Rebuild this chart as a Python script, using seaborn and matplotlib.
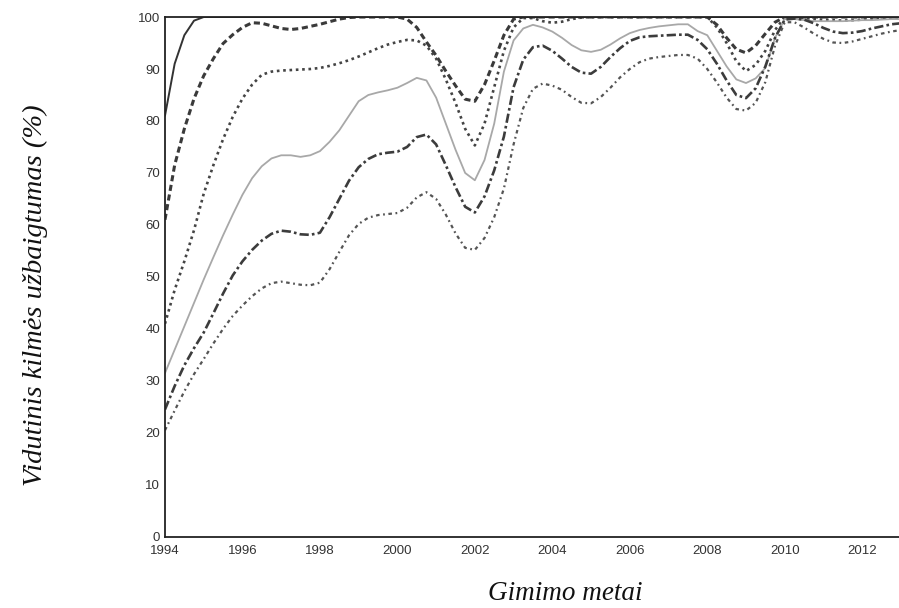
import numpy as np
import pandas as pd
import matplotlib
matplotlib.use("Agg")
import matplotlib.pyplot as plt
import seaborn as sns

# Values, quarter-year steps 1994.00 .. 2013.00
years = np.arange(1994.0, 2013.01, 0.25)

line_1 = [81, 91, 96.5, 99.3] + [100] * 73

line_2 = [61, 71.5, 78.5, 84.3,
          88.7, 92, 94.9, 96.6,
          98, 98.9, 98.8, 98.3,
          97.8, 97.6, 97.8, 98.2,
          98.6, 99.1, 99.6, 99.9,
          100, 100, 100, 100,
          100, 99.6, 98, 95.2,
          92.6, 89.6, 86.8, 84.2,
          83.8, 87, 91.6, 96.5,
          99.6, 100, 100, 100,
          100, 100, 100, 100,
          100, 100, 100, 100,
          100, 100, 100, 100,
          100, 100, 100, 100,
          100, 98.5, 96, 93.8,
          93.1, 94.5, 96.8, 99,
          100, 100, 100, 100,
          100, 100, 100, 100,
          100, 100, 100, 100,
          100]

line_3 = [41, 47.5, 53, 59,
          66, 71.5, 76.5, 80.8,
          84.3, 87, 88.9, 89.5,
          89.7, 89.8, 89.9, 90,
          90.2, 90.6, 91.1, 91.7,
          92.4, 93.2, 94, 94.7,
          95.2, 95.6, 95.5, 94.5,
          92, 88, 83.5, 78.5,
          75.3, 79.5, 86.5, 93.5,
          98, 99.8, 99.8, 99.2,
          98.9, 99.1, 99.6, 99.9,
          100, 100, 100, 100,
          100, 100, 100, 100,
          100, 100, 100, 100,
          100, 98, 95, 91.5,
          89.6, 90.8, 93.5, 97.5,
          100, 100, 99.8, 99.6,
          99.5, 99.4, 99.3, 99.4,
          99.5, 99.6, 99.7, 99.8,
          99.8]

line_4 = [31.5, 36, 40.5, 45,
          49.5, 53.8, 58, 62,
          65.8, 69, 71.3, 72.8,
          73.4, 73.4, 73.1, 73.4,
          74.2, 76, 78.2, 81,
          83.8, 85, 85.5, 85.9,
          86.4, 87.3, 88.3, 87.8,
          84.5, 79.5, 74.5, 70,
          68.6, 72.5, 79.5, 89.5,
          95.5, 97.8, 98.5, 98,
          97.2, 96, 94.6, 93.6,
          93.3, 93.7, 94.7, 95.9,
          96.9, 97.5, 97.9, 98.2,
          98.4, 98.6, 98.6, 97.3,
          96.5, 93.5, 90.5, 88,
          87.3, 88.2, 90.2, 96,
          99.6, 99.6, 99.4, 99.2,
          99.2, 99.2, 99.2, 99.3,
          99.4, 99.4, 99.5, 99.6,
          99.6]

line_5 = [24.5, 29, 33, 36.3,
          39.3, 43, 46.8, 50.3,
          53, 55.2, 57, 58.3,
          58.9, 58.7, 58.2, 58.1,
          58.5, 61.5, 65, 68.5,
          71.1, 72.7, 73.6, 73.9,
          74.1, 75, 76.9, 77.4,
          75.5, 71.5, 67.3, 63.5,
          62.4, 65.5, 70.5, 77,
          86.5, 91.8, 94.2, 94.5,
          93.5, 92, 90.4, 89.3,
          89.1, 90.4, 92.3, 94,
          95.4, 96.1, 96.3, 96.4,
          96.5, 96.6, 96.6, 95.6,
          93.8, 91, 87.8, 85,
          84.4, 86.3, 90.5, 96,
          99.5, 99.7, 99.5, 98.8,
          97.9, 97.2, 96.9, 97,
          97.3, 97.8, 98.2, 98.6,
          98.8]

line_6 = [20.5, 24.3, 28, 31.3,
          34.2, 37.2, 40, 42.5,
          44.5, 46.3, 47.8, 48.8,
          49.1, 48.8, 48.5, 48.4,
          48.9, 51.5, 54.8, 58,
          60.2, 61.4, 61.9, 62.1,
          62.3, 63.3, 65.3, 66.3,
          65, 62, 58.4, 55.6,
          55.2, 57.5, 61.5, 67,
          75.5, 82.5, 86.2, 87.2,
          86.8, 86, 84.6, 83.5,
          83.4, 84.6, 86.4, 88.4,
          90, 91.3, 92, 92.3,
          92.5, 92.7, 92.7, 92,
          90, 87.4, 84.5, 82.3,
          82, 83.5, 87.5, 94.5,
          99, 99, 98, 96.8,
          95.8, 95.1, 95, 95.3,
          95.8, 96.3, 96.8, 97.2,
          97.5]

series = [line_1, line_2, line_3, line_4, line_5, line_6]
colors = ["#333333", "#3a3a3a", "#444444", "#a8a8a8", "#3c3c3c", "#555555"]
widths = [1.4, 2.2, 1.9, 1.3, 1.9, 1.6]
styles = ["-", (0, (2.0, 1.2)), (0, (1.0, 1.4)), "-",
          (0, (3.5, 1.2, 1.0, 1.2)), (0, (1.6, 1.6, 0.8, 1.6))]

sns.set_style("white")
plt.rcParams["font.family"] = ["Liberation Sans", "DejaVu Sans"]

fig = plt.figure(figsize=(8.99, 6.08), dpi=100)
ax = fig.add_axes([0.1835, 0.117, 0.8165, 0.855])

for vals, c, lw, ls in zip(series, colors, widths, styles):
    sns.lineplot(x=years, y=vals, ax=ax, color=c, linewidth=lw, linestyle=ls)

ax.set_xlim(1994, 2012.95)
ax.set_ylim(0, 100)
ax.set_xticks(range(1994, 2013, 2))
ax.set_yticks(range(0, 101, 10))
ax.tick_params(direction="in", length=5, width=1, labelsize=9.5,
               labelcolor="#333333", colors="#333333")
ax.tick_params(axis="x", pad=6)
for side in ["left", "bottom", "top"]:
    ax.spines[side].set_color("#222222")
    ax.spines[side].set_linewidth(1.3)
ax.spines["right"].set_visible(False)

ax.set_xlabel("Gimimo metai", fontfamily="Liberation Serif", style="italic",
              fontsize=19.5, color="#111111")
ax.set_ylabel("Vidutinis kilmės užbaigtumas (%)", fontfamily="Liberation Serif",
              style="italic", fontsize=20.5, color="#111111")
ax.xaxis.set_label_coords(0.546, -0.085)
ax.yaxis.set_label_coords(-0.16, 0.465)

fig.savefig("out.png", dpi=100)
